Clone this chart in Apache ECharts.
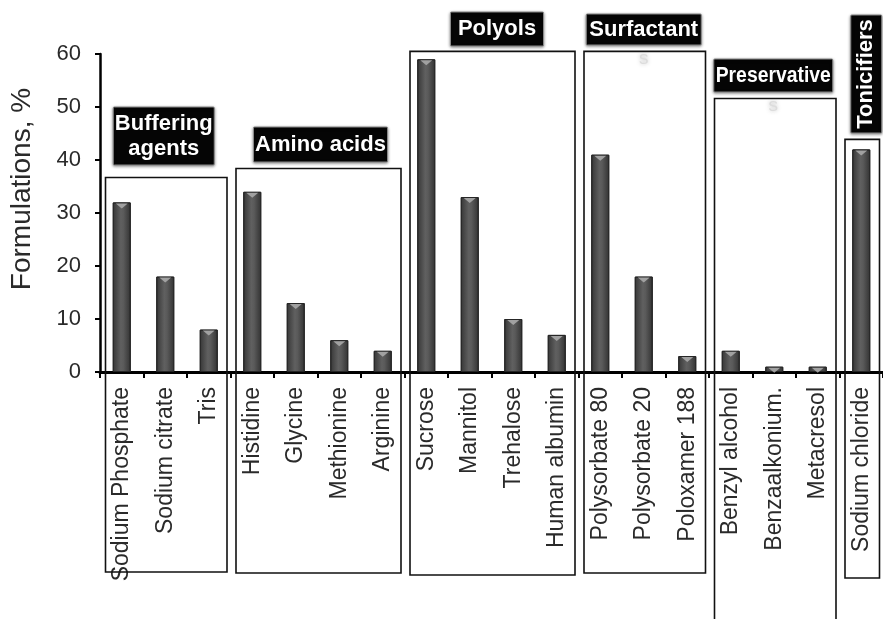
<!DOCTYPE html>
<html>
<head>
<meta charset="utf-8">
<title>Excipients in formulations</title>
<script src="https://cdn.jsdelivr.net/npm/echarts@6/dist/echarts.min.js"></script>
<style>
  html, body { margin: 0; padding: 0; background: #fff; }
  #main { width: 883px; height: 619px; }
</style>
</head>
<body>
<div id="main"></div>
<script>
// Excipients and the share of formulations that contain them
const categories = [
  'Sodium Phosphate', 'Sodium citrate', 'Tris',
  'Histidine', 'Glycine', 'Methionine', 'Arginine',
  'Sucrose', 'Mannitol', 'Trehalose', 'Human albumin',
  'Polysorbate 80', 'Polysorbate 20', 'Poloxamer 188',
  'Benzyl alcohol', 'Benzaalkonium.', 'Metacresol',
  'Sodium chloride'
];
const values = [32, 18, 8, 34, 13, 6, 4, 59, 33, 10, 7, 41, 18, 3, 4, 1, 1, 42];

// Excipient classes, in axis order, with the number of excipients in each
const groupNames = ['Buffering\nagents', 'Amino acids', 'Polyols', 'Surfactant', 'Preservative', 'Tonicifiers'];
const groupSizes = [3, 4, 4, 3, 3, 1];
// Overflowing part of a class caption that wraps under its tag
const groupOverflow = ['', '', '', 's', 's', ''];

const yMin = 0, yMax = 60, yStep = 10;

// Frame and tag geometry for each class (frame top in axis units, the rest in px)
const frameStyle = [
  { top: 36.7, bottom: 572, tagDx: -1.5, tagW: 101, tagTop: 107, tagBottom: 165, squeeze: 1 },
  { top: 38.4, bottom: 573, tagDx: 3,    tagW: 134, tagTop: 127, tagBottom: 162, squeeze: 1 },
  { top: 60.5, bottom: 575, tagDx: 5.5,  tagW: 93,  tagTop: 12,  tagBottom: 46,  squeeze: 1 },
  { top: 60.5, bottom: 573, tagDx: 0,    tagW: 115, tagTop: 14,  tagBottom: 45,  squeeze: 1 },
  { top: 51.6, bottom: 660, tagDx: -1,   tagW: 119, tagTop: 59,  tagBottom: 92,  squeeze: 0.88 },
  { top: 43.9, bottom: 578, tagDx: 5,    tagW: 31,  tagTop: 15,  tagBottom: 133, squeeze: 1, vertical: true }
];

const FONT = '"Liberation Sans", Arial, Helvetica, sans-serif';

const chart = echarts.init(document.getElementById('main'), null, { renderer: 'canvas' });

const barFill = new echarts.graphic.LinearGradient(0, 0, 1, 0, [
  { offset: 0, color: '#363636' },
  { offset: 0.45, color: '#606060' },
  { offset: 0.6, color: '#5a5a5a' },
  { offset: 1, color: '#323232' }
]);

chart.setOption({
  animation: false,
  backgroundColor: '#ffffff',
  grid: { left: 100, right: -2, top: 54, bottom: 247, containLabel: false },
  xAxis: {
    type: 'category',
    data: categories,
    axisLine: { show: true, lineStyle: { color: '#000', width: 3 } },
    axisTick: { show: true, length: 6, lineStyle: { color: '#000', width: 2 } },
    axisLabel: {
      rotate: 90,
      interval: 0,
      margin: 15,
      color: '#2a2a2a',
      fontFamily: FONT,
      fontSize: 23
    },
    splitLine: { show: false }
  },
  yAxis: {
    type: 'value',
    min: yMin,
    max: yMax,
    interval: yStep,
    name: 'Formulations, %',
    nameLocation: 'middle',
    nameGap: 64,
    nameTextStyle: {
      color: '#2a2a2a',
      fontFamily: FONT,
      fontSize: 28,
      padding: [0, 0, 0, 48]
    },
    axisLine: { show: true, lineStyle: { color: '#000', width: 2.5 } },
    axisTick: { show: true, length: 5, lineStyle: { color: '#000', width: 2 } },
    axisLabel: { margin: 19, color: '#2a2a2a', fontFamily: FONT, fontSize: 22 },
    splitLine: { show: false }
  },
  series: [
    {
      type: 'bar',
      data: values,
      barWidth: 18,
      itemStyle: { color: barFill, borderColor: '#262626', borderWidth: 1 },
      z: 3
    },
    {
      // light bevel at the top of each bar
      type: 'pictorialBar',
      data: values,
      symbol: 'triangle',
      symbolRotate: 180,
      symbolPosition: 'end',
      symbolSize: [12, 5],
      symbolOffset: [0, 1],
      itemStyle: { color: '#a8a8a8', opacity: 0.9 },
      z: 4,
      silent: true
    }
  ]
});

function drawFrames() {
  const xPix = i => chart.convertToPixel({ xAxisIndex: 0 }, i);
  const yPix = v => chart.convertToPixel({ yAxisIndex: 0 }, v);
  const band = xPix(1) - xPix(0);
  const elements = [];
  let start = 0;
  groupNames.forEach((name, g) => {
    const end = start + groupSizes[g] - 1;
    const s = frameStyle[g];
    const left = xPix(start) - band / 2 + 5.5;
    const right = xPix(end) + band / 2 - 3.5;
    const top = yPix(s.top);
    elements.push({
      type: 'rect',
      shape: { x: left, y: top, width: right - left, height: s.bottom - top },
      style: { fill: 'none', stroke: '#111', lineWidth: 1.6 },
      z: 10,
      silent: true
    });
    const cx = (xPix(start) + xPix(end)) / 2 + s.tagDx;
    const tagH = s.tagBottom - s.tagTop;
    elements.push({
      type: 'rect',
      shape: { x: cx - s.tagW / 2, y: s.tagTop, width: s.tagW, height: tagH, r: 1 },
      style: {
        fill: '#050505',
        stroke: '#8a8a8a',
        lineWidth: 1,
        shadowBlur: 3,
        shadowColor: 'rgba(0,0,0,0.45)',
        shadowOffsetY: 1
      },
      z: 11,
      silent: true
    });
    elements.push({
      type: 'text',
      x: cx,
      y: s.tagTop + tagH / 2,
      rotation: s.vertical ? Math.PI / 2 : 0,
      scaleX: s.squeeze,
      style: {
        text: name,
        fill: '#ffffff',
        font: 'bold 22px ' + FONT,
        lineHeight: 25,
        align: 'center',
        verticalAlign: 'middle'
      },
      z: 12,
      silent: true
    });
    if (groupOverflow[g]) {
      elements.push({
        type: 'text',
        x: cx,
        y: s.tagBottom + 14,
        style: {
          text: groupOverflow[g],
          fill: '#dcdcdc',
          font: '19px ' + FONT,
          align: 'center',
          verticalAlign: 'middle',
          textShadowBlur: 4,
          textShadowColor: 'rgba(120,120,120,0.5)'
        },
        z: 12,
        silent: true
      });
    }
    start = end + 1;
  });
  chart.setOption({ graphic: { elements: elements } });
}

drawFrames();
</script>
</body>
</html>
